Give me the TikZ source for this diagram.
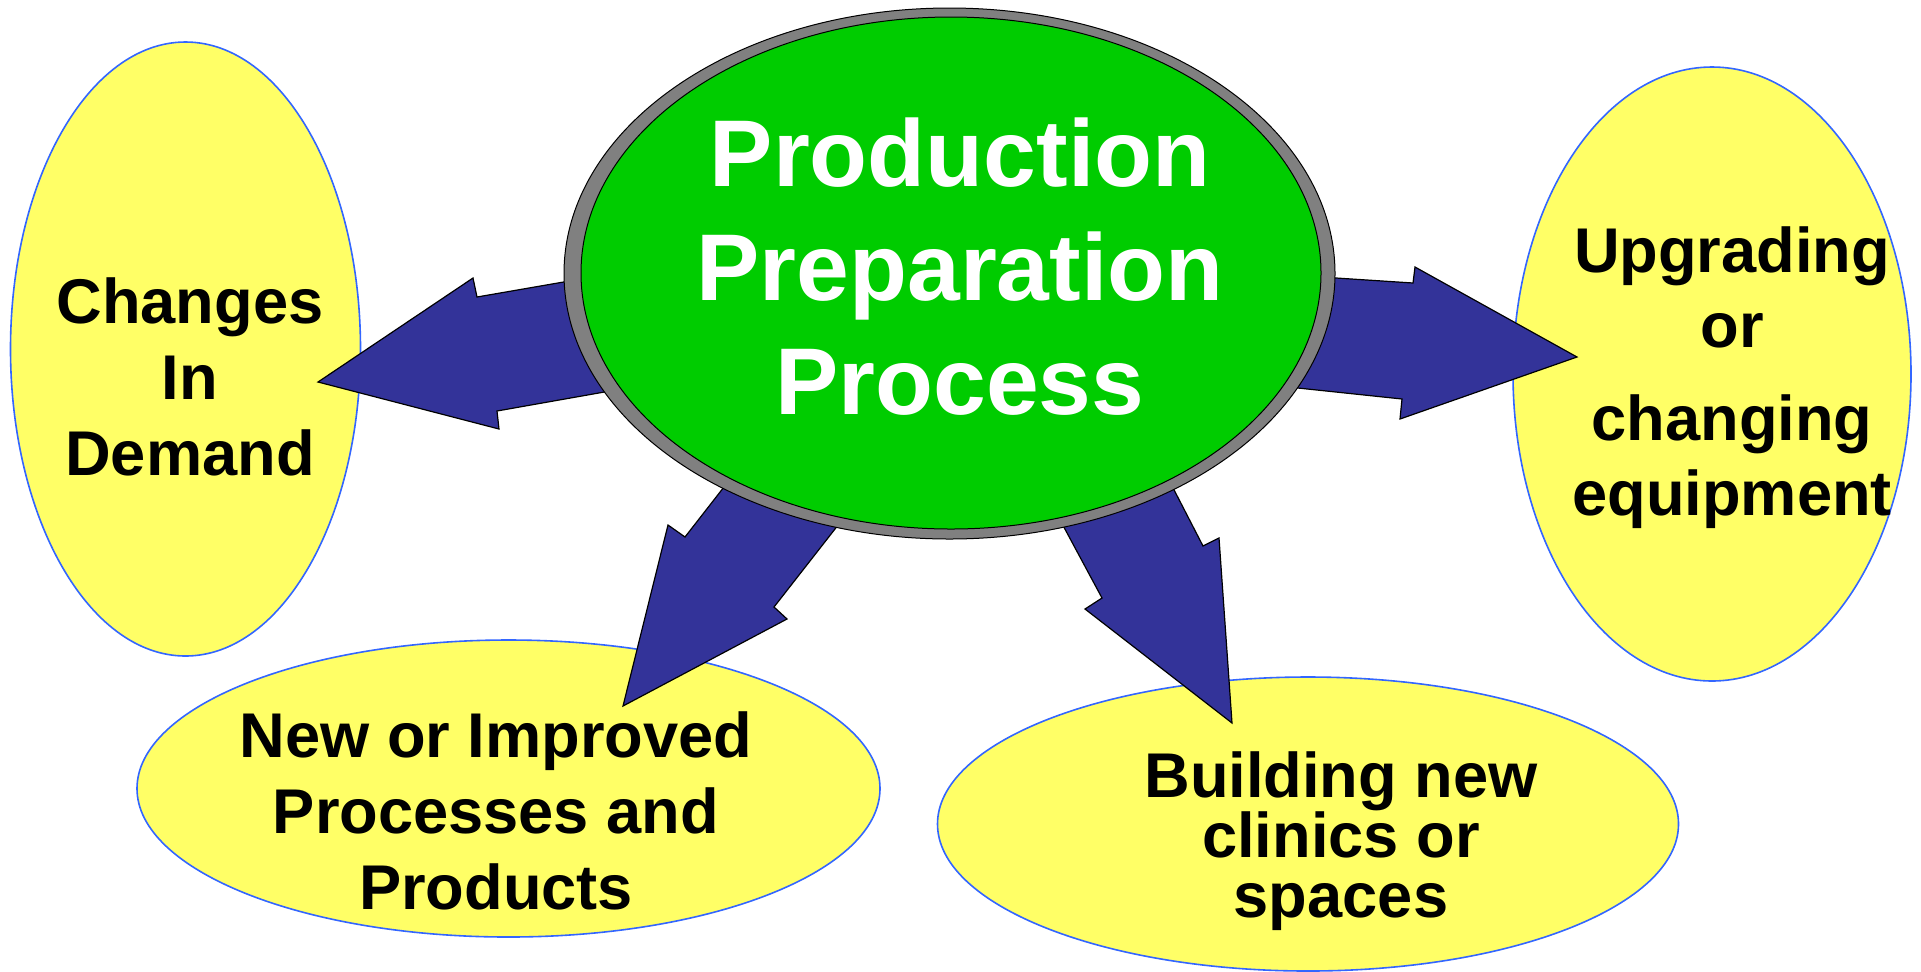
\documentclass[tikz,border=0pt]{standalone}
\usepackage{fontspec}
\setmainfont{Liberation Sans}
\usepackage{xcolor}
\usepackage{tikz}
\usetikzlibrary{shapes.geometric}

\definecolor{bubblefill}{HTML}{FFFF66}
\definecolor{bubbleline}{HTML}{3366FF}
\definecolor{arrowblue}{HTML}{333399}
\definecolor{coregreen}{HTML}{00CC00}
\definecolor{ringgray}{HTML}{808080}

\begin{document}
\begin{tikzpicture}
                            [x=0.5pt, y=-0.5pt,
                            bubble/.style = {ellipse,
                                        draw=bubbleline,
                                        fill=bubblefill,
                                        line width=0.8pt,
                                        inner sep=0pt},
                            blockarrow/.style = {fill=arrowblue,
                                        draw=black,
                                        line width=0.6pt},
                            bubbletext/.style = {anchor=base,
                                        align=center,
                                        font=\bfseries\fontsize{31.6}{38}\selectfont}]
                            \useasboundingbox (0,0) rectangle (1921,971);
                            % Changes in demand
                            \node[bubble, minimum width=175pt, minimum height=307pt] (demand) at (185.5,349) {};
                            % Upgrading equipment
                            \node[bubble, minimum width=199pt, minimum height=307pt] (equip) at (1712,374) {};
                            % New or improved processes
                            \node[bubble, minimum width=371.5pt, minimum height=148.5pt] (products) at (508.5,788.5) {};
                            % Building new clinics
                            \node[bubble, minimum width=370.5pt, minimum height=147pt] (clinics) at (1308,824) {};
                            % Block arrows
                            \draw[blockarrow] (604,275) -- (477,297) -- (473,278) -- (318,382)
                                -- (499,429) -- (497,411) -- (644,385) -- cycle;
                            \draw[blockarrow] (1290,275) -- (1413,283) -- (1415,267) -- (1577,357)
                                -- (1400,419) -- (1402,399) -- (1260,384) -- cycle;
                            \draw[blockarrow] (745,460) -- (685,537) -- (668,525) -- (623,706)
                                -- (787,619) -- (774,607) -- (860,497) -- cycle;
                            \draw[blockarrow] (1045,492) -- (1102,598) -- (1085,609) -- (1232,723)
                                -- (1219,538) -- (1203,546) -- (1155,453) -- cycle;
                            % Central process
                            \node[ellipse, draw=black, fill=ringgray, line width=0.5pt, inner sep=0pt,
                                minimum width=385.5pt, minimum height=265.5pt] (ring) at (949.5,273.5) {};
                            \node[ellipse, draw=black, fill=coregreen, line width=0.5pt, inner sep=0pt,
                                minimum width=370pt, minimum height=256pt] (core) at (951,273) {};
                            % Labels (base = last line)
                            \node[anchor=base, align=center, text=white,
                                font=\bfseries\fontsize{47.4}{57}\selectfont] (core-text) at (960,414)
                                {Production\\Preparation\\Process};
                            \node[bubbletext] (demand-text) at (190,475) {Changes\\In\\Demand};
                            \node[bubbletext, font=\bfseries\fontsize{31.6}{37.5}\selectfont] (equip-text) at (1732,515)
                                {Upgrading\\or\\[9pt]changing\\equipment};
                            \node[bubbletext] (products-text) at (496,909) {New or Improved\\Processes and\\Products};
                            \node[bubbletext, font=\bfseries\fontsize{31.6}{30}\selectfont] (clinics-text) at (1341,917)
                                {Building new\\clinics or\\spaces};
                        \end{tikzpicture}
\end{document}
